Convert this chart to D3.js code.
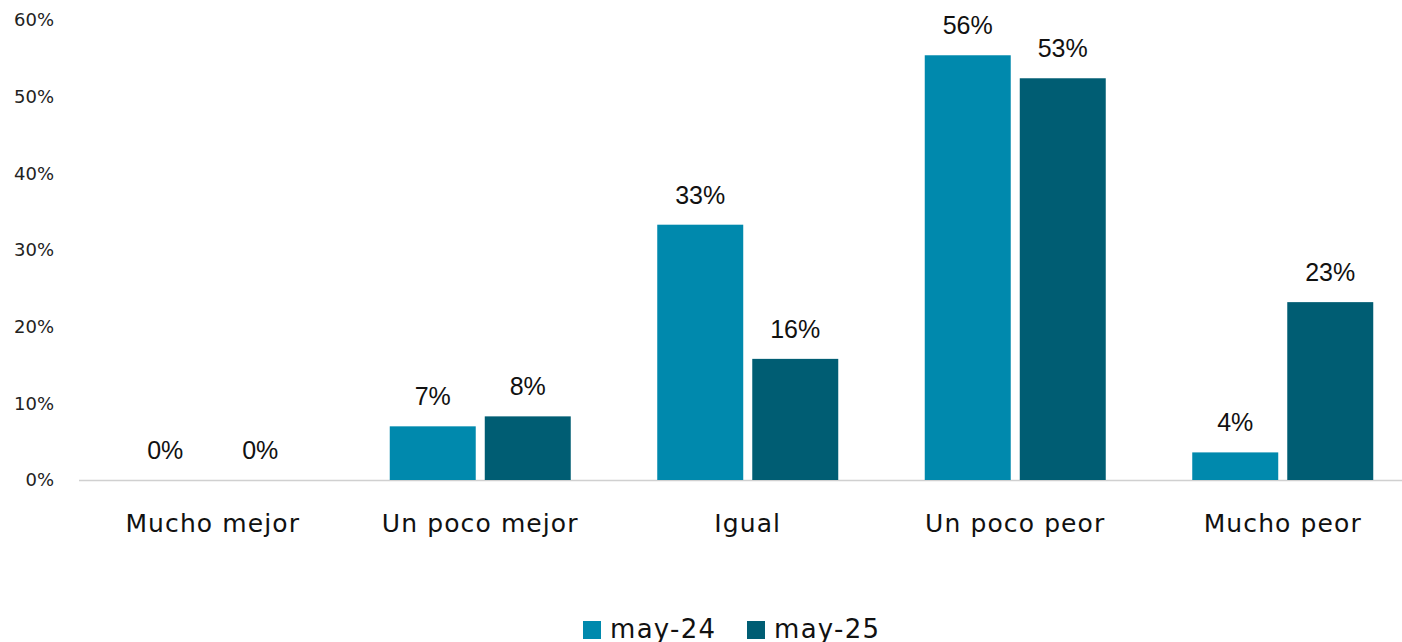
<!DOCTYPE html>
<html><head><meta charset="utf-8">
<script src="https://cdn.jsdelivr.net/npm/d3@7"></script>
<style>body{margin:0;background:#fff;}svg{display:block;}</style>
</head><body><svg id="c" width="1402" height="642"></svg>
<script>
const categories = ["Mucho mejor","Un poco mejor","Igual","Un poco peor","Mucho peor"];
const seriesNames = ["may-24","may-25"];
const may24 = [0, 7.0, 33.3, 55.4, 3.6];
const may25 = [0, 8.3, 15.8, 52.4, 23.2];
const labels24 = ["0%","7%","33%","56%","4%"];
const labels25 = ["0%","8%","16%","53%","23%"];
const yTicks = [0,10,20,30,40,50,60];
const colors = ["#0089AD","#005D73"];

const svg = d3.select("#c");
const axisFont = "'DejaVu Sans', Inter, sans-serif";
const x0 = d3.scaleBand().domain(categories).range([79, 1416.5]).padding(0);
const x1 = d3.scaleBand().domain(seriesNames).range([0, 181]).paddingInner(0.095);
const y = d3.scaleLinear().domain([0,60]).range([480,20]);

// y tick labels
svg.append("g").selectAll("text").data(yTicks).join("text")
  .attr("x", 54).attr("y", d => y(d)).attr("dy","0.35em")
  .attr("text-anchor","end").attr("font-family",axisFont).attr("font-size",18).attr("fill","#222")
  .text(d => d + "%");

// baseline
svg.append("line").attr("x1",79).attr("x2",1402).attr("y1",y(0)+0.5).attr("y2",y(0)+0.5)
  .attr("stroke","#d0d0d0").attr("stroke-width",1.5);

const series = [may24, may25];
const lbls = [labels24, labels25];
categories.forEach((c,i) => {
  const gx = x0(c) + (x0.bandwidth() - 181)/2;
  seriesNames.forEach((s,j) => {
    const v = series[j][i];
    const bx = gx + x1(s);
    if (v > 0) {
      svg.append("rect").attr("x", bx).attr("y", y(v)).attr("width", x1.bandwidth())
        .attr("height", y(0) - y(v)).attr("fill", colors[j]);
    }
    svg.append("text").attr("x", bx + x1.bandwidth()/2).attr("y", y(v) - 21)
      .attr("text-anchor","middle").attr("font-family","'Liberation Sans', Arial, sans-serif")
      .attr("font-size",25).attr("fill","#111").text(lbls[j][i]);
  });
});

// category labels
svg.append("g").selectAll("text").data(categories).join("text")
  .attr("x", d => x0(d) + x0.bandwidth()/2).attr("y", 523).attr("dy","0.35em")
  .attr("text-anchor","middle").attr("font-family",axisFont).attr("font-size",25)
  .attr("letter-spacing","1.1px").attr("fill","#111")
  .text(d => d);

// legend
const legend = svg.append("g");
const lx = [583, 747];
seriesNames.forEach((s,j) => {
  legend.append("rect").attr("x", lx[j]).attr("y", 621).attr("width",18).attr("height",18).attr("fill",colors[j]);
  legend.append("text").attr("x", lx[j]+27).attr("y", 629).attr("dy","0.35em")
    .attr("font-family",axisFont).attr("font-size",26).attr("letter-spacing","1.3px").attr("fill","#111").text(s);
});
</script></body></html>
